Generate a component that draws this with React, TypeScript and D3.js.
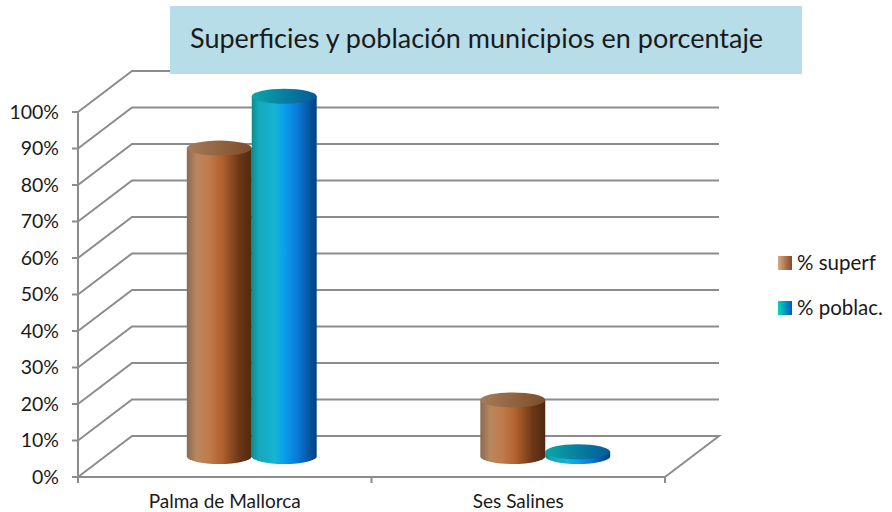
import { useRef, useEffect } from "react";
import * as d3 from "d3";

const categories = ["Palma de Mallorca", "Ses Salines"];
const seriesNames = ["% superf", "% poblac."];
const superf = [84.5, 15.5];
const poblac = [98.7, 1.3];
const yTicks = [0, 10, 20, 30, 40, 50, 60, 70, 80, 90, 100];

const W = 892;
const H = 512;
const DX = 54; // depth offset of back wall
const DY = -41;
const GRID = "#8c8c8c";
const FONT = "Lato, 'Open Sans', sans-serif";

export default function App() {
  const svgRef = useRef<SVGSVGElement>(null);

  useEffect(() => {
    if (!svgRef.current) return;
    const svg = d3.select(svgRef.current);
    svg.selectAll("*").remove();

    const x = d3.scaleBand<string>().domain(categories).range([78, 665]);
    const y = d3.scaleLinear().domain([0, 100]).range([477, 112]);
    const sub = d3
      .scaleBand<string>()
      .domain(seriesNames)
      .range([0, x.bandwidth()])
      .paddingInner(0)
      .paddingOuter(1.26);

    const defs = svg.append("defs");
    const grad = (id: string, stops: [number, string][]) => {
      const g = defs.append("linearGradient").attr("id", id).attr("x1", 0).attr("x2", 1).attr("y1", 0).attr("y2", 0);
      stops.forEach(([o, c]) => g.append("stop").attr("offset", o).attr("stop-color", c));
    };
    grad("bodyBrown", [[0, "#8a6a52"], [0.15, "#b9875f"], [0.35, "#c07a4a"], [0.55, "#b0602d"], [0.8, "#6e3817"], [1, "#4f2810"]]);
    grad("bodyBlue", [[0, "#0d8c8c"], [0.1, "#14a7b8"], [0.35, "#17b4d4"], [0.5, "#0aa0ee"], [0.7, "#0a7ad8"], [1, "#033f80"]]);
    grad("topBrown", [[0, "#a57c5a"], [1, "#7e4c2a"]]);
    grad("topBlue", [[0, "#0aa6a8"], [1, "#045a98"]]);
    grad("legBrown", [[0, "#d6aa84"], [1, "#8a4a20"]]);
    grad("legBlue", [[0, "#00d8b8"], [1, "#0058c8"]]);

    const series = [
      { name: seriesNames[0], values: superf, body: "bodyBrown", top: "topBrown", leg: "legBrown" },
      { name: seriesNames[1], values: poblac, body: "bodyBlue", top: "topBlue", leg: "legBlue" },
    ];

    const x0 = x.range()[0];
    const x1 = x.range()[1];

    // back wall gridlines + left wall diagonals
    const grid = svg.append("g").attr("stroke", GRID).attr("stroke-width", 2).attr("fill", "none");
    yTicks.forEach((t) => {
      if (t === 0) return;
      grid
        .append("path")
        .attr("d", `M${x0},${y(t)}L${x0 + DX},${y(t) + DY}L${x1 + DX},${y(t) + DY}`);
    });
    // floor
    grid
      .append("path")
      .attr("d", `M${x0},${y(0)}L${x0 + DX},${y(0) + DY}L${x1 + DX},${y(0) + DY}L${x1},${y(0)}`);
    // front axes
    grid.append("path").attr("d", `M${x0},${y(100)}L${x0},${y(0)}L${x1},${y(0)}`);
    yTicks.forEach((t) => {
      grid.append("path").attr("d", `M${x0 - 6},${y(t)}L${x0},${y(t)}`);
    });
    [x0, x0 + x.step(), x1].forEach((v) => {
      grid.append("path").attr("d", `M${v},${y(0)}L${v},${y(0) + 6}`);
    });

    // y labels
    svg
      .append("g")
      .selectAll("text")
      .data(yTicks)
      .enter()
      .append("text")
      .attr("x", 59)
      .attr("y", (d) => y(d))
      .attr("dy", "0.35em")
      .attr("text-anchor", "end")
      .attr("font-family", FONT)
      .attr("font-size", 19.5)
      .attr("fill", "#1a1a1a")
      .text((d) => `${d}%`);

    // category labels
    svg
      .append("g")
      .selectAll("text")
      .data(categories)
      .enter()
      .append("text")
      .attr("x", (d) => (x(d) ?? 0) + x.bandwidth() / 2)
      .attr("y", 501)
      .attr("dy", "0.35em")
      .attr("text-anchor", "middle")
      .attr("font-family", FONT)
      .attr("font-size", 19)
      .attr("fill", "#1a1a1a")
      .text((d) => d);

    // cylinders at mid depth
    const mdx = DX / 2;
    const mdy = DY / 2;
    const ry = 7.5;
    const bars = svg.append("g");
    categories.forEach((c, i) => {
      series.forEach((s) => {
        const left = (x(c) ?? 0) + (sub(s.name) ?? 0) + mdx;
        const r = sub.bandwidth() / 2;
        const cx = left + r;
        const base = y(0) + mdy;
        const top = y(s.values[i]) + mdy;
        bars
          .append("path")
          .attr(
            "d",
            `M${cx - r},${top}L${cx - r},${base}A${r},${ry} 0 0 0 ${cx + r},${base}L${cx + r},${top}Z`
          )
          .attr("fill", `url(#${s.body})`);
        bars
          .append("ellipse")
          .attr("cx", cx)
          .attr("cy", top)
          .attr("rx", r)
          .attr("ry", ry)
          .attr("fill", `url(#${s.top})`);
      });
    });

    // legend
    const leg = svg.append("g");
    series.forEach((s, i) => {
      const ly = 263 + i * 45;
      leg
        .append("rect")
        .attr("x", 778)
        .attr("y", ly - 7)
        .attr("width", 14)
        .attr("height", 14)
        .attr("fill", `url(#${s.leg})`);
      leg
        .append("text")
        .attr("x", 797)
        .attr("y", ly)
        .attr("dy", "0.35em")
        .attr("font-family", FONT)
        .attr("font-size", 20.5)
        .attr("fill", "#1a1a1a")
        .text(s.name);
    });

    // title box
    svg.append("rect").attr("x", 170).attr("y", 6).attr("width", 632).attr("height", 68).attr("fill", "#b7dde8");
    svg
      .append("text")
      .attr("x", 190)
      .attr("y", 39)
      .attr("dy", "0.35em")
      .attr("font-family", FONT)
      .attr("font-size", 27)
      .attr("fill", "#1a1a1a")
      .text("Superficies y población municipios en porcentaje");
  }, []);

  return (
    <svg
      ref={svgRef}
      width={W}
      height={H}
      style={{ position: "absolute", left: 0, top: 0, background: "#fff" }}
    />
  );
}
